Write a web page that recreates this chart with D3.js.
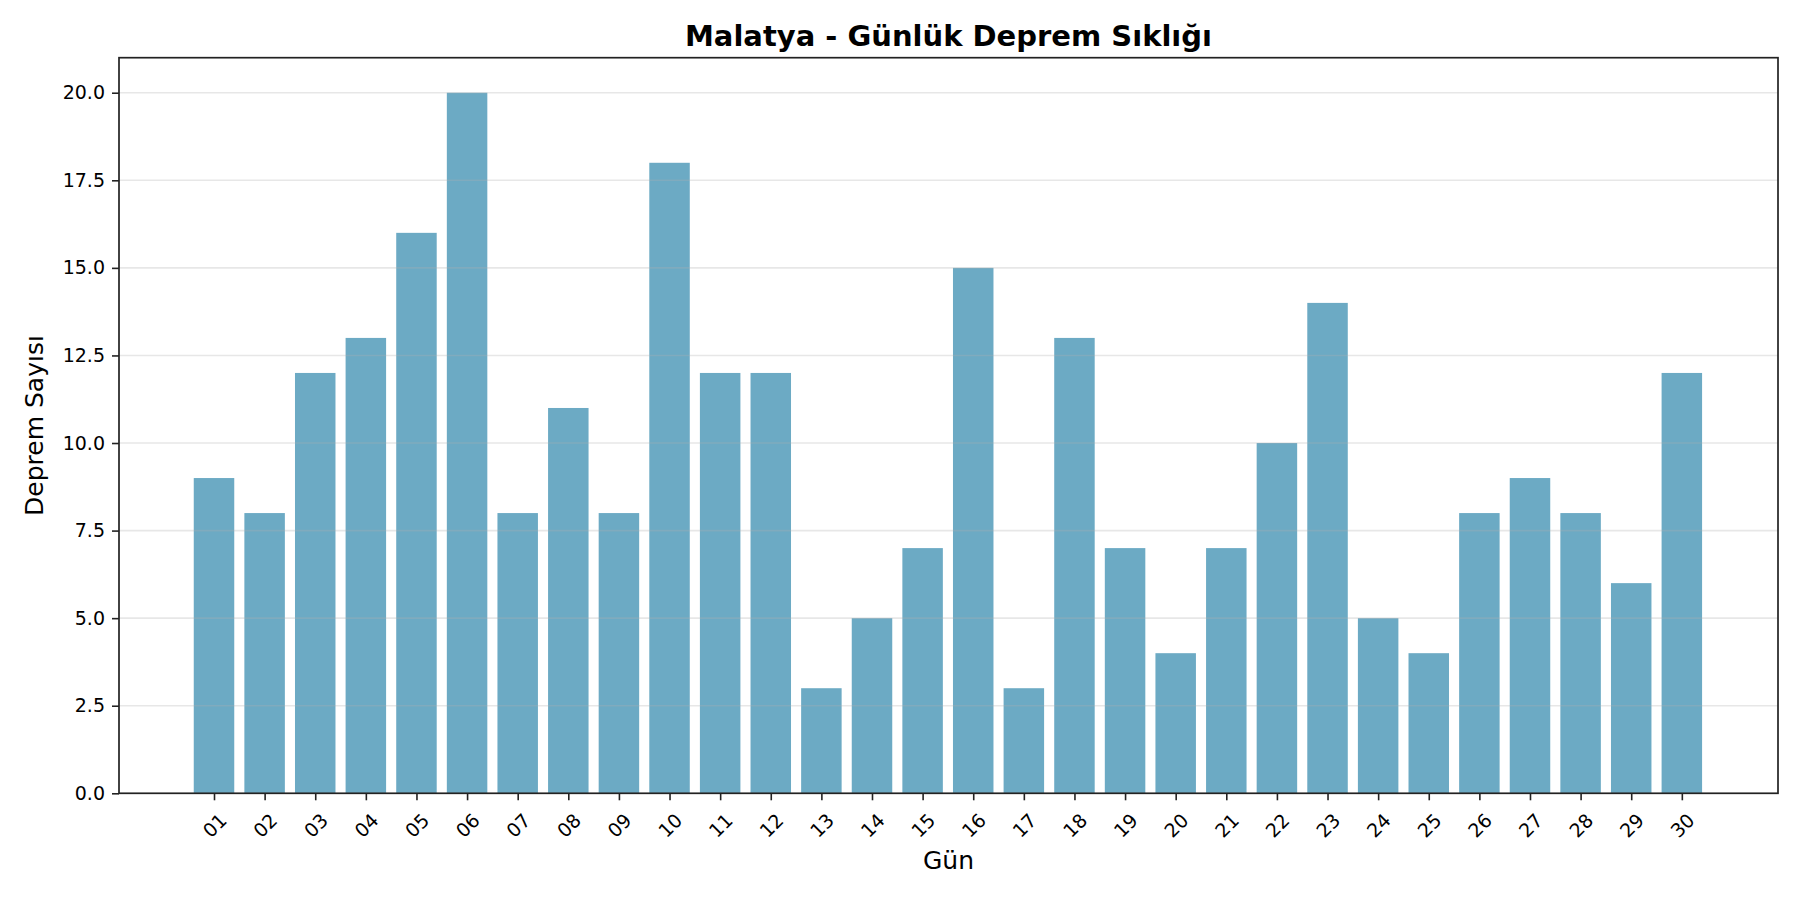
<!DOCTYPE html>
<html>
<head>
<meta charset="utf-8">
<script src="https://cdn.jsdelivr.net/npm/d3@7"></script>
<style>
  body { margin: 0; background: #fff; }
  svg text { font-family: "DejaVu Sans", sans-serif; fill: #000; }
</style>
</head>
<body>
<svg id="chart" width="1800" height="900"></svg>
<script>
// günlük deprem sayıları - Malatya
var days = ["01","02","03","04","05","06","07","08","09","10",
            "11","12","13","14","15","16","17","18","19","20",
            "21","22","23","24","25","26","27","28","29","30"];
var counts = [9, 8, 12, 13, 16, 20, 8, 11, 8, 18,
              12, 12, 3, 5, 7, 15, 3, 13, 7, 4,
              7, 10, 14, 5, 4, 8, 9, 8, 6, 12];
var yTicks = [0, 2.5, 5, 7.5, 10, 12.5, 15, 17.5, 20];

// plot area (window.top is read-only, so no "top" here)
var plotL = 119, plotR = 1778, plotT = 57.7, plotB = 793.3;
var svg = d3.select("#chart");

var x = d3.scaleLinear()
  .domain([-1.877, days.length - 1 + 1.9])
  .range([plotL, plotR]);
var y = d3.scaleLinear()
  .domain([0, 21])
  .range([plotB, plotT]);

var barW = x(0.8) - x(0);

// bars
svg.append("g").selectAll("rect")
  .data(counts)
  .enter()
  .append("rect")
  .attr("x", function(d, i){ return x(i) - barW / 2; })
  .attr("y", function(d){ return y(d); })
  .attr("width", barW)
  .attr("height", function(d){ return y(0) - y(d); })
  .style("fill", "#2E86AB")
  .style("fill-opacity", 0.7);

// grid (on top, like the original)
svg.append("g").selectAll("line")
  .data(yTicks)
  .enter()
  .append("line")
  .attr("x1", plotL).attr("x2", plotR)
  .attr("y1", function(d){ return y(d); })
  .attr("y2", function(d){ return y(d); })
  .style("stroke", "#b0b0b0")
  .style("stroke-opacity", 0.3)
  .style("stroke-width", 1.6);

// y axis
var yAxis = d3.axisLeft(y)
  .tickValues(yTicks)
  .tickFormat(d3.format(".1f"))
  .tickSize(7)
  .tickPadding(7);
var gy = svg.append("g")
  .attr("transform", "translate(" + plotL + ",0)")
  .call(yAxis);
gy.select(".domain").remove();
gy.selectAll("line").style("stroke", "#222").style("stroke-width", 1.6);
gy.selectAll("text")
  .style("font-size", "19px")
  .style("font-family", "DejaVu Sans")
  .attr("fill", "#000");

// x axis
var xAxis = d3.axisBottom(x)
  .tickValues(d3.range(days.length))
  .tickFormat(function(i){ return days[i]; })
  .tickSize(7);
var gx = svg.append("g")
  .attr("transform", "translate(0," + plotB + ")")
  .call(xAxis);
gx.select(".domain").remove();
gx.selectAll("line").style("stroke", "#222").style("stroke-width", 1.6);
gx.selectAll("text")
  .attr("y", 0)
  .attr("dy", null)
  .attr("text-anchor", "middle")
  .attr("dominant-baseline", "central")
  .attr("transform", "translate(0,32) rotate(-45)")
  .style("font-size", "19px")
  .style("font-family", "DejaVu Sans")
  .attr("fill", "#000");

// frame
svg.append("rect")
  .attr("x", plotL).attr("y", plotT)
  .attr("width", plotR - plotL).attr("height", plotB - plotT)
  .style("fill", "none")
  .style("stroke", "#222")
  .style("stroke-width", 1.7);

// labels
svg.append("text")
  .attr("x", (plotL + plotR) / 2)
  .attr("y", 46)
  .attr("text-anchor", "middle")
  .style("font-size", "29px")
  .style("font-weight", "bold")
  .text("Malatya - Günlük Deprem Sıklığı");

svg.append("text")
  .attr("x", (plotL + plotR) / 2)
  .attr("y", 869)
  .attr("text-anchor", "middle")
  .style("font-size", "25px")
  .text("Gün");

svg.append("text")
  .attr("transform", "translate(43," + (plotT + plotB) / 2 + ") rotate(-90)")
  .attr("text-anchor", "middle")
  .style("font-size", "25px")
  .text("Deprem Sayısı");
</script>
</body>
</html>
